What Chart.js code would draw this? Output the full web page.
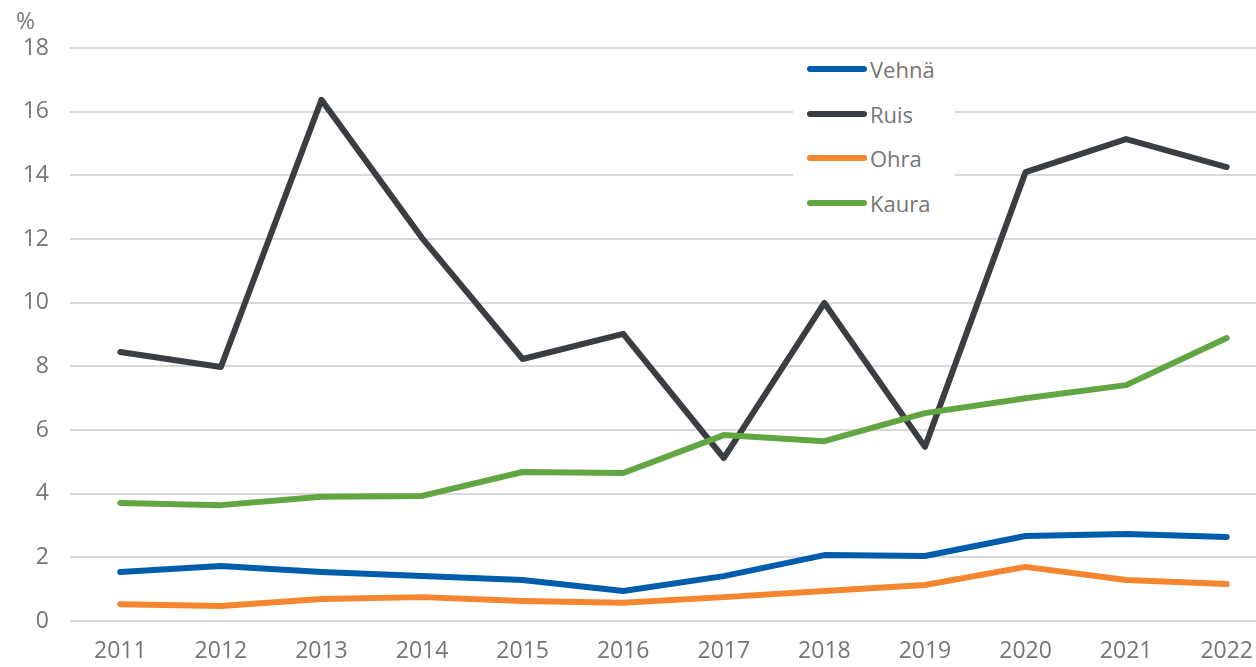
<!DOCTYPE html>
<html>
<head>
<meta charset="utf-8">
<script src="https://cdn.jsdelivr.net/npm/chart.js@4"></script>
<style>
  html, body { margin: 0; padding: 0; background: #fff; overflow: hidden; }
  #wrap { position: relative; width: 1277px; height: 667px; }
  #unit { position: absolute; left: 16px; top: 4px; font: 23px "Open Sans", sans-serif; color: #757575; }
  #legend { position: absolute; left: 793px; top: 50px; width: 162px; height: 178px; background: #fff;
            font: 22px "Open Sans", sans-serif; color: #757575; }
  #legend .row { position: absolute; left: 14px; height: 30px; display: flex; align-items: center; }
  #legend .sw { width: 60px; height: 6px; border-radius: 3px; margin-right: 3px; }
</style>
</head>
<body>
<div id="wrap">
  <canvas id="chart" width="1277" height="667"></canvas>
  <div id="unit">%</div>
  <div id="legend"></div>
</div>
<script>
// DATA
const years = ["2011", "2012", "2013", "2014", "2015", "2016", "2017", "2018", "2019", "2020", "2021", "2022"];
const names = ["Vehnä", "Ruis", "Ohra", "Kaura"];
const colors = ["#005DAC", "#3A3E43", "#F5852F", "#62A543"];

const vehna = [1.54, 1.73, 1.54, 1.41, 1.29, 0.94, 1.41, 2.07, 2.04, 2.67, 2.73, 2.64];
const ruis  = [8.45, 7.98, 16.37, 12.03, 8.23, 9.02, 5.12, 9.99, 5.47, 14.1, 15.14, 14.26];
const ohra  = [0.53, 0.47, 0.69, 0.75, 0.63, 0.57, 0.75, 0.94, 1.13, 1.70, 1.29, 1.16];
const kaura = [3.71, 3.64, 3.90, 3.93, 4.68, 4.65, 5.84, 5.65, 6.53, 7.00, 7.41, 8.89];

const series = [vehna, ruis, ohra, kaura];
const yTicks = [0, 2, 4, 6, 8, 10, 12, 14, 16, 18];

const FONT = { family: "'Open Sans', sans-serif", size: 23 };
const GREY = "#757575";

// CHART
const ctx = document.getElementById("chart").getContext("2d");

new Chart(ctx, {
  type: "line",
  data: {
    labels: years,
    datasets: series.map((d, i) => ({
      label: names[i],
      data: d,
      borderColor: colors[i],
      backgroundColor: colors[i],
      borderWidth: 6,
      borderCapStyle: "round",
      borderJoinStyle: "round",
      pointRadius: 0,
      tension: 0,
      order: series.length - i
    }))
  },
  options: {
    responsive: false,
    animation: false,
    layout: { padding: { top: 48, left: 0, right: 0, bottom: 0 } },
    plugins: { legend: { display: false }, tooltip: { enabled: false } },
    scales: {
      x: {
        offset: true,
        grid: { display: false, drawTicks: false },
        border: { display: false },
        ticks: { color: GREY, font: FONT, padding: 17, maxRotation: 0, autoSkip: false },
        afterFit: s => { s.height = 46; }
      },
      y: {
        min: 0,
        max: 18,
        afterBuildTicks: s => { s.ticks = yTicks.map(v => ({ value: v })); },
        grid: { color: "#D9D9D9", lineWidth: 2, drawTicks: false },
        border: { display: false },
        ticks: { color: GREY, font: FONT, padding: 21 },
        afterFit: s => { s.width = 70; }
      }
    }
  }
});

// LEGEND
const legend = document.getElementById("legend");
names.forEach((n, i) => {
  const row = document.createElement("div");
  row.className = "row";
  row.style.top = (4 + i * 44.5) + "px";
  const sw = document.createElement("span");
  sw.className = "sw";
  sw.style.background = colors[i];
  const t = document.createElement("span");
  t.textContent = n;
  row.appendChild(sw);
  row.appendChild(t);
  legend.appendChild(row);
});
</script>
</body>
</html>
